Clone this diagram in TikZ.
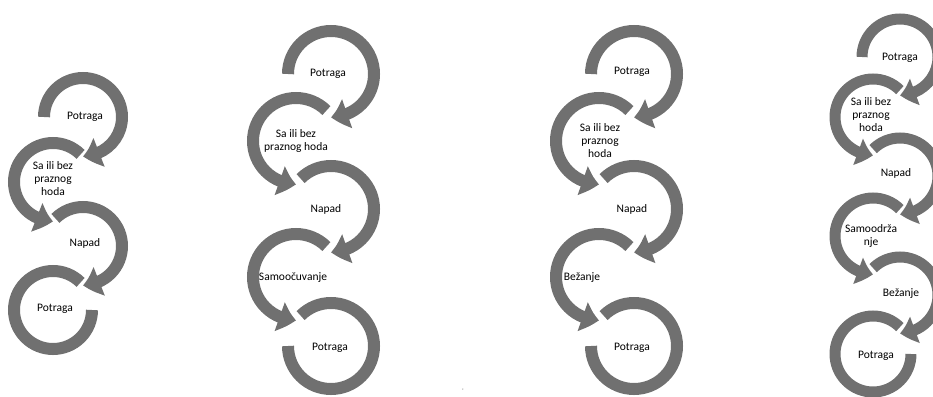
\documentclass[tikz,border=0pt]{standalone}
\usepackage{fontspec}
\setmainfont{Carlito}
\usetikzlibrary{arrows.meta,%
                bending}
\definecolor{ringgray}{RGB}{112,112,112}

\begin{document}
\begin{tikzpicture}[x=1pt,y=-1pt]
  \useasboundingbox (0,0) rectangle (933,396);

  \tikzstyle{Ring}=[draw=ringgray,line width=12pt]
  \tikzstyle{RingArrow}=[Ring,-{Triangle[width=0pt 2.45,length=0pt 1.4,bend]}]
  \tikzstyle{Label}=[font=\fontsize{11.5}{13}\selectfont,align=center,inner sep=0pt]

  % first column
  \coordinate (a1) at (83,117);
  \coordinate (a2) at (53,182);
  \coordinate (a3) at (83,246);
  \coordinate (a4) at (53,310);

  \draw[RingArrow] (a1) ++(180:39pt) arc[start angle=180,end angle=-90,radius=39pt];
  \draw[RingArrow] (a2) ++(45:39pt) arc[start angle=45,end angle=270,radius=39pt];
  \draw[RingArrow] (a3) ++(135:39pt) arc[start angle=135,end angle=-90,radius=39pt];
  \draw[Ring] (a4) ++(45:39pt) arc[start angle=45,end angle=360,radius=39pt];

  \node[Label,xshift=2pt] (pa1) at (a1) {Potraga};
  \node[Label,yshift=3pt] (pa2) at (a2) {Sa ili bez\\praznog\\hoda};
  \node[Label,xshift=2pt,yshift=3pt] (pa3) at (a3) {Napad};
  \node[Label,xshift=2pt,yshift=1pt] (pa4) at (a4) {Potraga};

  % second column
  \coordinate (b1) at (331,74);
  \coordinate (b2) at (296,141);
  \coordinate (b3) at (331,209);
  \coordinate (b4) at (296,277);
  \coordinate (b5) at (331,346);

  \draw[RingArrow] (b1) ++(180:43pt) arc[start angle=180,end angle=-90,radius=43pt];
  \draw[RingArrow] (b2) ++(45:43pt) arc[start angle=45,end angle=270,radius=43pt];
  \draw[RingArrow] (b3) ++(135:43pt) arc[start angle=135,end angle=-90,radius=43pt];
  \draw[RingArrow] (b4) ++(45:43pt) arc[start angle=45,end angle=270,radius=43pt];
  \draw[Ring] (b5) ++(135:43pt) arc[start angle=135,end angle=-180,radius=43pt];

  \node[Label,xshift=-3pt] (pb1) at (b1) {Potraga};
  \node[Label] (pb2) at (b2) {Sa ili bez\\praznog hoda};
  \node[Label,xshift=-5pt] (pb3) at (b3) {Napad};
  \node[Label,xshift=-3pt,yshift=-1pt] (pb4) at (b4) {Samoočuvanje};
  \node[Label,xshift=-1pt,yshift=-2pt] (pb5) at (b5) {Potraga};

  % third column
  \coordinate (c1) at (634,74);
  \coordinate (c2) at (599,141);
  \coordinate (c3) at (634,209);
  \coordinate (c4) at (599,277);
  \coordinate (c5) at (634,346);

  \draw[RingArrow] (c1) ++(180:43pt) arc[start angle=180,end angle=-90,radius=43pt];
  \draw[RingArrow] (c2) ++(45:43pt) arc[start angle=45,end angle=270,radius=43pt];
  \draw[RingArrow] (c3) ++(135:43pt) arc[start angle=135,end angle=-90,radius=43pt];
  \draw[RingArrow] (c4) ++(45:43pt) arc[start angle=45,end angle=270,radius=43pt];
  \draw[Ring] (c5) ++(135:43pt) arc[start angle=135,end angle=-180,radius=43pt];

  \node[Label,xshift=-2pt,yshift=2pt] (pc1) at (c1) {Potraga};
  \node[Label,xshift=1pt] (pc2) at (c2) {Sa ili bez\\praznog\\hoda};
  \node[Label,xshift=-2pt] (pc3) at (c3) {Napad};
  \node[Label,xshift=-17pt,yshift=-1pt] (pc4) at (c4) {Bežanje};
  \node[Label,xshift=-2pt,yshift=-2pt] (pc5) at (c5) {Potraga};

  % fourth column
  \coordinate (d1) at (900,57);
  \coordinate (d2) at (873,117);
  \coordinate (d3) at (900,176);
  \coordinate (d4) at (873,236);
  \coordinate (d5) at (900,295);
  \coordinate (d6) at (873,354);

  \draw[RingArrow,line width=11pt] (d1) ++(180:38pt) arc[start angle=180,end angle=-90,radius=38pt];
  \draw[RingArrow,line width=11pt] (d2) ++(45:38pt) arc[start angle=45,end angle=270,radius=38pt];
  \draw[RingArrow,line width=11pt] (d3) ++(135:38pt) arc[start angle=135,end angle=-90,radius=38pt];
  \draw[RingArrow,line width=11pt] (d4) ++(45:38pt) arc[start angle=45,end angle=270,radius=38pt];
  \draw[RingArrow,line width=11pt] (d5) ++(135:38pt) arc[start angle=135,end angle=-90,radius=38pt];
  \draw[Ring,line width=11pt] (d6) ++(45:38pt) arc[start angle=45,end angle=360,radius=38pt];

  \node[Label,yshift=-1pt] (pd1) at (d1) {Potraga};
  \node[Label,xshift=-2pt,yshift=2pt] (pd2) at (d2) {Sa ili bez\\praznog\\hoda};
  \node[Label,xshift=-4pt,yshift=3pt] (pd3) at (d3) {Napad};
  \node[Label,xshift=-2pt] (pd4) at (d4) {Samoodrža\\nje};
  \node[Label,xshift=1pt,yshift=1pt] (pd5) at (d5) {Bežanje};
  \node[Label,xshift=3pt,yshift=-2pt] (pd6) at (d6) {Potraga};

  \node[Label,font=\tiny] (m) at (463,391) {'};

\end{tikzpicture}
\end{document}
